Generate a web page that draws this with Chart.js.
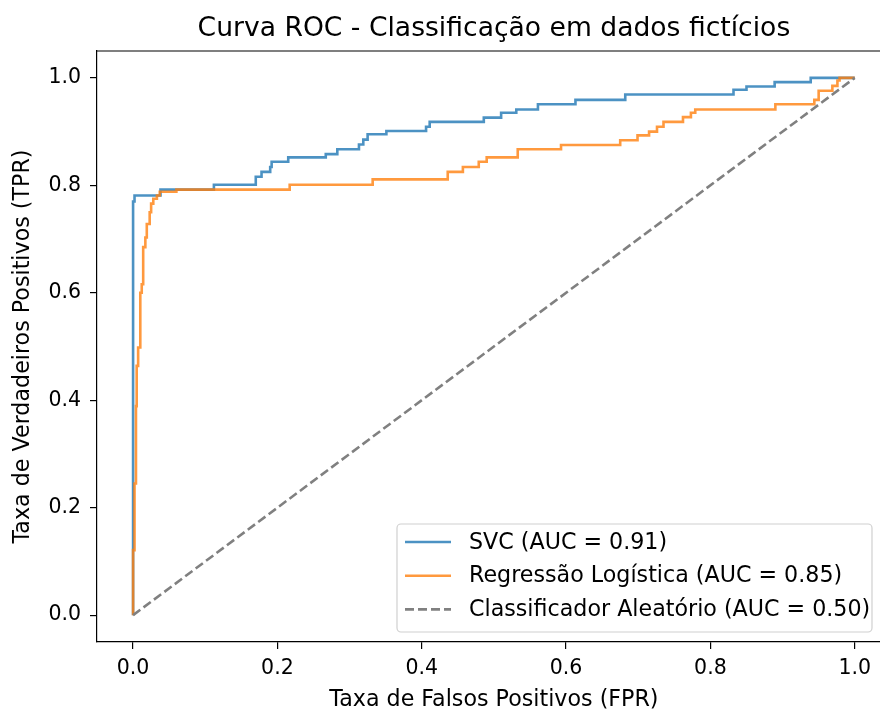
<!DOCTYPE html>
<html>
<head>
<meta charset="utf-8">
<script src="https://cdn.jsdelivr.net/npm/chart.js@4"></script>
<style>
  html, body { margin: 0; padding: 0; background: #fff; }
  #wrap { width: 880px; height: 710px; position: relative; }
</style>
</head>
<body>
<div id="wrap"><canvas id="rocChart"></canvas></div>
<script>
const titleText = "Curva ROC - Classificação em dados fictícios";
const xLabel = "Taxa de Falsos Positivos (FPR)";
const yLabel = "Taxa de Verdadeiros Positivos (TPR)";
const seriesLabels = [
  "SVC (AUC = 0.91)",
  "Regressão Logística (AUC = 0.85)",
  "Classificador Aleatório (AUC = 0.50)"
];

// step points: at fpr x the curve rises to tpr y
const svcFpr = [0, 0, 0.002, 0.038, 0.112, 0.170, 0.178, 0.190, 0.192, 0.215, 0.267, 0.283, 0.313, 0.319, 0.325,
  0.351, 0.406, 0.411, 0.486, 0.510, 0.531, 0.561, 0.613, 0.682, 0.832, 0.850, 0.889, 0.939, 1.0];
const svcTpr = [0, 0.770, 0.781, 0.792, 0.801, 0.816, 0.825, 0.834, 0.844, 0.852, 0.858, 0.867, 0.876, 0.885, 0.895,
  0.901, 0.909, 0.918, 0.926, 0.935, 0.941, 0.951, 0.959, 0.969, 0.978, 0.984, 0.992, 1.0, 1.0];

const logFpr = [0, 0, 0.002, 0.004, 0.005, 0.007, 0.010, 0.012, 0.014, 0.017, 0.019, 0.023, 0.025, 0.028, 0.033,
  0.037, 0.060, 0.217, 0.332, 0.436, 0.457, 0.479, 0.490, 0.533, 0.593, 0.675, 0.699, 0.715, 0.726, 0.735,
  0.762, 0.773, 0.779, 0.890, 0.944, 0.950, 0.969, 0.976, 0.979, 1.0];
const logTpr = [0, 0.121, 0.245, 0.389, 0.464, 0.498, 0.600, 0.616, 0.685, 0.703, 0.728, 0.750, 0.766, 0.775, 0.781,
  0.788, 0.792, 0.801, 0.811, 0.825, 0.834, 0.844, 0.852, 0.867, 0.875, 0.884, 0.893, 0.900, 0.909, 0.918,
  0.927, 0.935, 0.941, 0.951, 0.959, 0.976, 0.985, 0.995, 1.0, 1.0];

const diagFpr = [0, 1];
const diagTpr = [0, 1];

const xTicks = [0, 0.2, 0.4, 0.6, 0.8, 1.0];
const yTicks = [0, 0.2, 0.4, 0.6, 0.8, 1.0];

const font = "DejaVu Sans";
const colors = ["rgba(31,119,180,0.8)", "rgba(255,127,14,0.8)", "#808080"];

const toPoints = (xs, ys) => xs.map((x, i) => ({ x: x, y: ys[i] }));

// title, axis labels, top frame and legend box like matplotlib
const decorPlugin = {
  id: "decor",
  afterDraw(chart) {
    const ctx = chart.ctx;
    const area = chart.chartArea;
    const xs = chart.scales.x;
    const midX = xs.getPixelForValue(0.5);

    ctx.save();
    ctx.strokeStyle = "#000";
    ctx.lineWidth = 1.2;
    ctx.beginPath();
    ctx.moveTo(area.left, area.top);
    ctx.lineTo(area.right, area.top);
    ctx.stroke();

    ctx.fillStyle = "#000";
    ctx.textAlign = "center";
    ctx.textBaseline = "middle";
    ctx.font = "26.6px '" + font + "'";
    ctx.fillText(titleText, midX, 29);

    ctx.font = "22.2px '" + font + "'";
    ctx.fillText(xLabel, midX, 700);

    ctx.translate(23, (area.top + area.bottom) / 2);
    ctx.rotate(-Math.PI / 2);
    ctx.fillText(yLabel, 0, 0);
    ctx.restore();

    // legend
    const bx = 397, by = 524, bw = 475, bh = 108;
    ctx.save();
    ctx.beginPath();
    ctx.roundRect(bx, by, bw, bh, 4);
    ctx.fillStyle = "rgba(255,255,255,0.8)";
    ctx.fill();
    ctx.strokeStyle = "#d0d0d0";
    ctx.lineWidth = 1.2;
    ctx.stroke();

    ctx.font = "22.2px '" + font + "'";
    ctx.textAlign = "left";
    ctx.textBaseline = "middle";
    chart.data.datasets.forEach((ds, i) => {
      const ry = by + 18 + i * 33.7;
      ctx.beginPath();
      ctx.setLineDash(ds.borderDash || []);
      ctx.strokeStyle = ds.borderColor;
      ctx.lineWidth = ds.borderWidth;
      ctx.moveTo(bx + 8, ry);
      ctx.lineTo(bx + 54, ry);
      ctx.stroke();
      ctx.setLineDash([]);
      ctx.fillStyle = "#000";
      ctx.fillText(ds.label, bx + 72, ry + 1);
    });
    ctx.restore();
  }
};

const ctx = document.getElementById("rocChart").getContext("2d");

new Chart(ctx, {
  type: "scatter",
  data: {
    datasets: [
      {
        label: seriesLabels[0],
        data: toPoints(svcFpr, svcTpr),
        showLine: true,
        stepped: "before",
        borderColor: colors[0],
        borderWidth: 2.6,
        pointRadius: 0,
        order: 3
      },
      {
        label: seriesLabels[1],
        data: toPoints(logFpr, logTpr),
        showLine: true,
        stepped: "before",
        borderColor: colors[1],
        borderWidth: 2.6,
        pointRadius: 0,
        order: 2
      },
      {
        label: seriesLabels[2],
        data: toPoints(diagFpr, diagTpr),
        showLine: true,
        borderColor: colors[2],
        borderDash: [9, 4],
        borderWidth: 2.6,
        pointRadius: 0,
        order: 1
      }
    ]
  },
  options: {
    responsive: true,
    maintainAspectRatio: false,
    animation: false,
    layout: { padding: { top: 51, left: 0, right: 0, bottom: 0 } },
    plugins: {
      legend: { display: false },
      tooltip: { enabled: false },
      title: { display: false }
    },
    scales: {
      x: {
        type: "linear",
        min: -0.05,
        max: 1.035,
        afterBuildTicks: axis => { axis.ticks = xTicks.map(v => ({ value: v })); },
        afterFit: axis => { axis.height = 68; },
        grid: { display: true, drawOnChartArea: false, drawTicks: true, tickLength: 7, color: "#000", lineWidth: 1.2 },
        border: { display: true, color: "#000", width: 1.2 },
        ticks: {
          padding: 7,
          color: "#000",
          font: { family: font, size: 20.5 },
          maxRotation: 0,
          callback: v => Number(v).toFixed(1)
        }
      },
      y: {
        type: "linear",
        min: -0.05,
        max: 1.05,
        afterBuildTicks: axis => { axis.ticks = yTicks.map(v => ({ value: v })); },
        afterFit: axis => { axis.width = 97; },
        grid: { display: true, drawOnChartArea: false, drawTicks: true, tickLength: 7, color: "#000", lineWidth: 1.2 },
        border: { display: true, color: "#000", width: 1.2 },
        ticks: {
          padding: 9,
          color: "#000",
          font: { family: font, size: 20.5 },
          callback: v => Number(v).toFixed(1)
        }
      }
    }
  },
  plugins: [decorPlugin]
});
</script>
</body>
</html>
